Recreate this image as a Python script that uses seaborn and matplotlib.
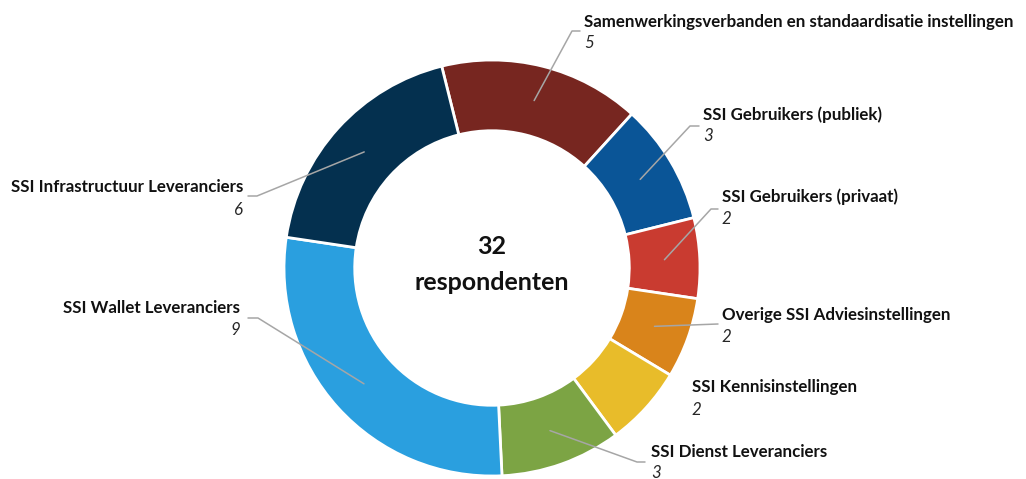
import numpy as np
import matplotlib.pyplot as plt
import seaborn as sns

categories = [
    "Samenwerkingsverbanden en standaardisatie instellingen",
    "SSI Gebruikers (publiek)",
    "SSI Gebruikers (privaat)",
    "Overige SSI Adviesinstellingen",
    "SSI Kennisinstellingen",
    "SSI Dienst Leveranciers",
    "SSI Wallet Leveranciers",
    "SSI Infrastructuur Leveranciers",
]
counts = [5, 3, 2, 2, 2, 3, 9, 6]
colors = ["#772620", "#0a5597", "#c93b30", "#d9841b",
          "#e8bc2a", "#7ca444", "#2a9fdf", "#04304f"]
center_number = "32"
center_word = "respondenten"

sns.set_theme(style="white")
plt.rcParams['font.family'] = ['Lato', 'DejaVu Sans']

# pixel geometry of the ring in the 1026x479 canvas
W, H = 1026, 479
CX, CY, R = 492, 268, 208


def px(x, y):
    return (x - CX) / R, (CY - y) / R


# label layout in pixels: text x, name y, value y, ha, leader corner, leader tail
layout = [
    (584, 22, 43, "left", (572, 31), (580, 31)),
    (703, 115, 136, "left", (690, 126), (699, 126)),
    (722, 197, 219, "left", (711, 209), (718, 209)),
    (722, 315, 337, "left", (718, 324), (718, 324)),
    (692, 387, 410, "left", None, None),
    (651, 452, 473, "left", (637, 462), (645, 462)),
    (240, 308, 330, "right", (258, 318), (248, 318)),
    (243, 187, 210, "right", (257, 196), (248, 196)),
]

fig = plt.figure(figsize=(W / 100, H / 100), dpi=100)
ax = fig.add_axes([0, 0, 1, 1])

wedges, _ = ax.pie(counts, colors=sns.color_palette(colors), startangle=104,
                   counterclock=False, radius=1,
                   wedgeprops=dict(width=0.34, edgecolor="white", linewidth=2))

for w, name, val, (tx, ny, vy, ha, corner, tail) in zip(wedges, categories, counts, layout):
    if corner is not None:
        ang = np.deg2rad((w.theta1 + w.theta2) / 2)
        r = 1 - 0.34 / 2
        sx, sy = r * np.cos(ang), r * np.sin(ang)
        c = px(*corner)
        t = px(*tail)
        ax.plot([sx, c[0], t[0]], [sy, c[1], t[1]], color="#a6a6a6", lw=1.1,
                solid_capstyle="round")
    x, y = px(tx, ny)
    ax.text(x, y, name, ha=ha, va="center", fontsize=12.2, fontweight="bold",
            color="#111111")
    x, y = px(tx, vy)
    ax.text(x, y, str(val), ha=ha, va="center", fontsize=12.2, fontstyle="italic",
            color="#262626")

ax.text(0, px(0, 246)[1], center_number, ha="center", va="center",
        fontsize=18, fontweight="bold", color="#111111")
ax.text(0, px(0, 282)[1], center_word, ha="center", va="center",
        fontsize=18, fontweight="bold", color="#111111")

ax.set_xlim(-CX / R, (W - CX) / R)
ax.set_ylim(-(H - CY) / R, CY / R)
ax.set_aspect("equal")
ax.axis("off")

plt.savefig("out.png", dpi=100)
